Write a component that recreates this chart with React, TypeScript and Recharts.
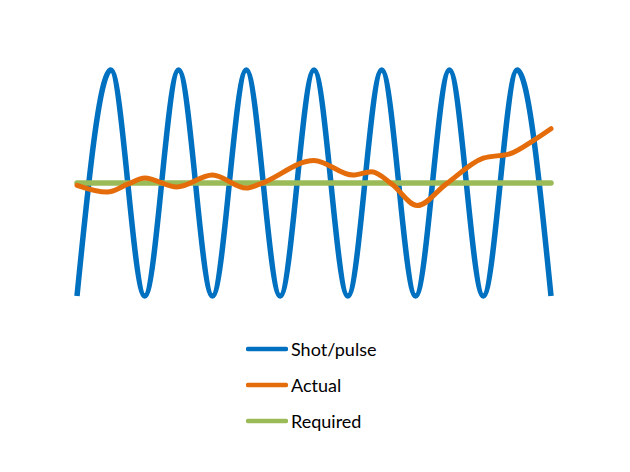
import { LineChart, Line, XAxis, YAxis } from "recharts";

// x runs 0..14 (half periods), y runs -10..10 (pulse amplitude)
const pulseX = [0, 1, 2, 3, 4, 5, 6, 7, 8, 9, 10, 11, 12, 13, 14];
const pulseY = [-10, 10, -10, 10, -10, 10, -10, 10, -10, 10, -10, 10, -10, 10, -10];

const actualX = [0, 0.89, 1.5, 2.0, 2.95, 4.0, 5.0, 5.4, 7.0, 8.15, 8.7, 9.3, 10.05, 10.9, 12.0, 12.8, 13.5, 14.0];
const actualY = [-0.2, -0.8, -0.1, 0.45, -0.35, 0.7, -0.45, -0.1, 2.0, 0.7, 1.0, -0.1, -2.0, -0.1, 2.2, 2.6, 3.8, 4.8];

const requiredX = [0, 14];
const requiredY = [0, 0];

const SERIES = [
  { name: "Shot/pulse", color: "#0070C0" },
  { name: "Actual", color: "#E46C0A" },
  { name: "Required", color: "#9BBB59" },
];

const pulse = pulseX.map((x, i) => ({ x, y: pulseY[i] }));
const actual = actualX.map((x, i) => ({ x, y: actualY[i] }));
const required = requiredX.map((x, i) => ({ x, y: requiredY[i] }));

const LegendBox = () => (
  <div style={{ position: "absolute", left: 246, top: 331, fontFamily: "Lato, 'Open Sans', sans-serif", fontSize: 18, color: "#000" }}>
    {SERIES.map((s) => (
      <div key={s.name} style={{ display: "flex", alignItems: "center", height: 36 }}>
        <svg width={42} height={6} style={{ marginRight: 3 }}>
          <line x1={2} y1={3} x2={40} y2={3} stroke={s.color} strokeWidth={4.5} strokeLinecap="round" />
        </svg>
        <span>{s.name}</span>
      </div>
    ))}
  </div>
);

export default function App() {
  return (
    <div style={{ position: "absolute", left: 0, top: 0, width: 630, height: 472, background: "#fff" }}>
      <LineChart width={630} height={472} margin={{ top: 70, right: 79, bottom: 176, left: 77 }}>
        <XAxis type="number" dataKey="x" domain={[0, 14]} hide />
        <YAxis type="number" dataKey="y" domain={[-10, 10]} hide />
        <Line data={pulse} dataKey="y" type="monotone" stroke={SERIES[0].color} strokeWidth={5.5} dot={false} isAnimationActive={false} />
        <Line data={required} dataKey="y" type="linear" stroke={SERIES[2].color} strokeWidth={5.5} strokeLinecap="round" dot={false} isAnimationActive={false} />
        <Line data={actual} dataKey="y" type="monotone" stroke={SERIES[1].color} strokeWidth={5} strokeLinecap="round" dot={false} isAnimationActive={false} />
      </LineChart>
      <LegendBox />
    </div>
  );
}
